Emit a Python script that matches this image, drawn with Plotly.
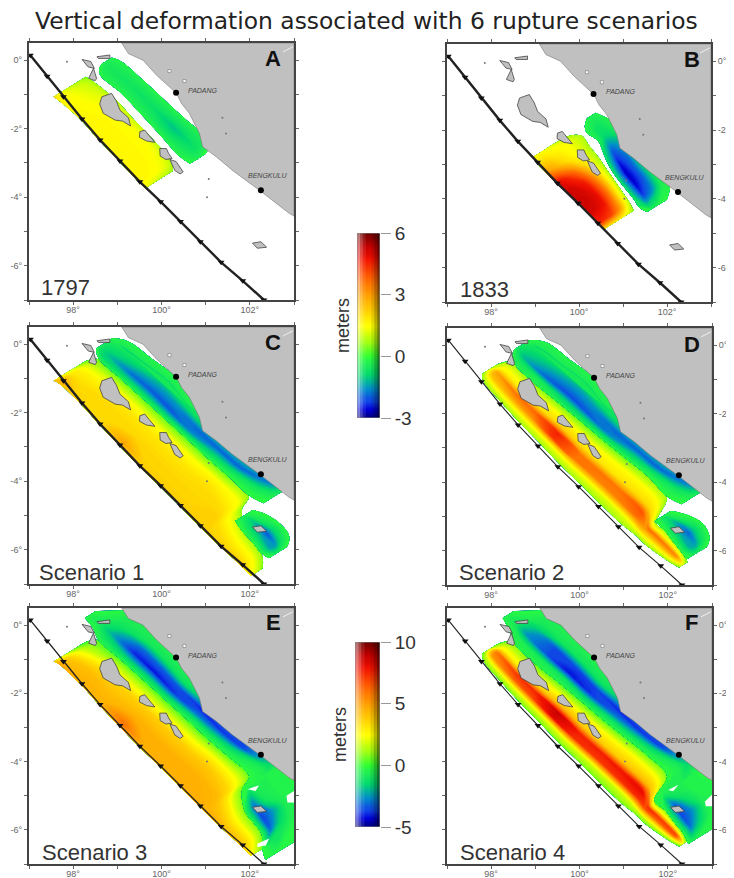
import numpy as np
import plotly.graph_objects as go

W, H = 734, 878
BODY = 8  # default page margin around the figure
TITLE = "Vertical deformation associated with 6 rupture scenarios"

# trench (lon, lat) read at the barbs
TRENCH_LON = [97.03, 97.41, 97.78, 98.20, 98.61, 99.06, 99.51, 99.98, 100.43, 100.88, 101.35, 101.84, 102.32]
TRENCH_LAT = [0.146, -0.47, -1.07, -1.72, -2.33, -2.94, -3.55, -4.13, -4.71, -5.30, -5.90, -6.44, -7.0]

COAST_LON = [99.10, 99.25, 99.58, 99.89, 100.34, 100.45, 100.63, 100.86, 100.93, 101.24, 101.6, 102.21, 102.89, 103, 103, 99.10]
COAST_LAT = [0.5, 0.19, 0.0, -0.44, -0.97, -1.26, -1.55, -2.14, -2.53, -2.82, -3.21, -3.79, -4.47, -4.55, 0.5, 0.5]

ISLANDS = [
    ([98.65, 98.87, 98.98, 99.06, 99.25, 99.30, 99.12, 98.95, 98.68, 98.6, 98.65], [-1.07, -0.97, -1.2, -1.46, -1.68, -1.92, -1.78, -1.75, -1.55, -1.28, -1.07]),
    ([99.51, 99.62, 99.72, 99.85, 99.66, 99.5, 99.51], [-2.09, -2.04, -2.2, -2.4, -2.36, -2.25, -2.09]),
    ([99.96, 100.11, 100.16, 100.24, 100.1, 99.97, 99.96], [-2.58, -2.58, -2.72, -2.87, -2.9, -2.8, -2.58]),
    ([100.19, 100.33, 100.49, 100.42, 100.3, 100.19], [-2.9, -2.96, -3.26, -3.32, -3.22, -2.9]),
    ([98.35, 98.46, 98.53, 98.5, 98.35], [-0.53, -0.24, -0.53, -0.6, -0.53]),
    ([98.2, 98.4, 98.48, 98.34, 98.2], [0.02, -0.04, -0.24, -0.2, 0.02]),
    ([98.54, 98.83, 98.83, 98.57, 98.54], [0.1, 0.15, 0.05, 0.05, 0.1]),
    ([102.06, 102.25, 102.38, 102.17, 102.06], [-5.34, -5.3, -5.46, -5.49, -5.34]),
]
ISLET_LON = [97.86, 101.38, 101.46, 101.07, 101.03]
ISLET_LAT = [-0.05, -1.68, -2.14, -3.47, -4.0]
LAKE_LON = [100.18, 100.52]
LAKE_LAT = [-0.32, -0.61]
CITY_LON = [100.33, 102.25]
CITY_LAT = [-0.95, -3.8]
CITY_NAMES = ["PADANG", "BENGKULU"]
CITY_LABEL_LON = [100.95, 102.4]
CITY_LABEL_LAT = [-0.88, -3.38]

# ---- deformation tables: station along the trench, across-strike limits, metres ----
FR_A_UP = [0, .15, .5, .85, 1]
A_UP_STN = [1.8, 2, 3, 4, 5, 6, 6.3]
A_UP_LO = [-.15, -.12, -.03, -.02, -.02, -.02, -.02]
A_UP_HI = [.58, .62, .74, .76, .76, .72, .6]
A_UP_Z = [[2.2, 1.5, 1.0, .7, .5], [1.8, 1.55, 1.3, 1.0, .7], [1.6, 1.6, 1.55, 1.3, .9], [1.6, 1.6, 1.6, 1.4, 1.0],
          [1.6, 1.6, 1.6, 1.45, .95], [1.6, 1.6, 1.55, 1.2, .8], [1.55, 1.3, 1.0, .8, .7]]
FR_A_DN = [0, .25, .5, .75, 1]
A_DN_STN = [1.7, 2, 3, 4, 5, 6, 6.4]
A_DN_LO = [.98, .82, .91, .93, .92, .91, .95]
A_DN_HI = [1.2, 1.3, 1.4, 1.46, 1.5, 1.54, 1.3]
A_DN_Z = [[-.2, -.3, -.35, -.3, -.2], [-.2, -.4, -.5, -.4, -.2], [-.2, -.45, -.6, -.45, -.2], [-.2, -.5, -.7, -.5, -.2],
          [-.2, -.7, -1.1, -.6, -.2], [-.2, -.5, -.7, -.5, -.2], [-.1, -.2, -.3, -.2, -.1]]

FR_B_UP = [0, .2, .45, .7, .85, 1]
B_UP_STN = [4.75, 5, 5.5, 6, 6.5, 7, 7.5, 8, 8.3]
B_UP_LO = [0, -.02, -.02, -.02, 0, 0, 0, 0, 0]
B_UP_HI = [.7, .98, .96, .94, .88, .83, .78, .73, .68]
B_UP_Z = [[1.55, 1.55, 1.35, 1.1, .9, .7], [1.75, 1.85, 1.6, 1.45, 1.15, .8], [3.2, 2.8, 2.0, 1.5, 1.2, .8],
          [5.0, 4.6, 3.6, 2.0, 1.3, .8], [5.2, 5.1, 4.6, 3.0, 1.7, .8], [5.3, 5.2, 4.9, 3.4, 2.0, .85],
          [5.2, 5.1, 4.8, 3.4, 2.0, .85], [4.6, 4.5, 4.1, 3.0, 1.8, .85], [2.2, 1.9, 1.75, 1.45, 1.15, .7]]
FR_B_DN = [0, .25, .5, .75, 1]
B_DN_STN = [4.6, 5, 5.5, 6, 6.5, 7, 7.5, 8, 8.3, 8.6]
B_DN_LO = [1.3, 1.1, 1.15, 1.05, .95, .89, .86, .83, .8, .85]
B_DN_HI = [1.5, 1.6, 1.7, 1.8, 1.75, 1.7, 1.68, 1.62, 1.5, 1.3]
B_DN_Z = [[-.2, -.3, -.3, -.3, -.2], [-.2, -.4, -.6, -.5, -.2], [-.3, -.9, -.8, -.4, -.2], [-.6, -1.9, -1.4, -.5, -.2],
          [-.6, -2.4, -1.8, -.5, -.2], [-.6, -2.7, -1.9, -.5, -.2], [-.6, -2.6, -1.9, -.5, -.2], [-.5, -2.2, -1.6, -.4, -.2],
          [-.2, -1.3, -.9, -.3, -.2], [-.1, -.3, -.3, -.2, -.1]]

FR_C_UP = [0, .1, .35, .6, .8, 1]
C_UP_STN = [1.8, 2, 2.5, 3, 4, 5, 6, 7, 8, 9, 9.3, 10, 11, 11.5]
C_UP_LO = [-.15, -.1, -.06, -.03, -.02, -.02, -.02, -.02, -.02, -.02, -.02, -.02, -.04, -.06]
C_UP_HI = [.55, .79, .83, .88, .95, .99, 1.03, 1.04, 1.08, 1.1, .8, .54, .42, .2]
C_UP_Z = [[2.5, 1.9, 1.45, 1.0, .6, .3], [2.5, 2.8, 1.9, 1.6, .9, .3], [2.3, 2.2, 2.0, 1.7, 1.2, .3], [2.1, 2.1, 2.1, 1.75, 1.3, .3],
          [2.1, 2.1, 2.1, 1.9, 1.4, .3], [2.5, 2.9, 2.1, 1.9, 1.4, .3], [2.2, 2.2, 2.1, 1.9, 1.45, .3], [2.2, 2.2, 2.1, 1.9, 1.5, .3],
          [2.2, 2.2, 2.1, 2.0, 1.55, .3], [2.2, 2.2, 2.2, 1.75, 1.4, .5], [2.2, 2.2, 2.0, 1.6, 1.2, .55], [2.2, 2.2, 1.9, 1.55, 1.2, .7],
          [2.2, 2.2, 1.75, 1.45, 1.0, .55], [1.6, 1.5, 1.3, 1.0, .8, .5]]
FR_DN = [0, .15, .3, .55, .8, 1]
C_DN_STN = [1.6, 2, 3, 4, 5, 6, 7, 8, 9, 9.5]
C_DN_LO = [.9, .8, .88, .95, .99, 1.03, 1.04, 1.08, 1.1, 1.2]
C_DN_HI = [1.25, 1.45, 1.6, 1.72, 1.65, 1.55, 1.55, 1.6, 1.95, 1.85]
C_DN_Z = [[-.2, -.4, -.5, -.5, -.3, -.2], [-.2, -.9, -1.0, -.7, -.4, -.2], [-.2, -1.0, -1.8, -1.0, -.4, -.2], [-.2, -1.1, -2.0, -1.3, -.4, -.2],
          [-.2, -1.1, -2.0, -1.5, -.4, -.2], [-.1, -.8, -1.6, -1.9, -.9, -.5], [-.1, -.6, -1.0, -1.9, -1.2, -.7], [-.1, -.4, -.8, -1.9, -1.3, -.9],
          [-.1, -.3, -.6, -1.7, -.7, -.3], [-.1, -.2, -.3, -.4, -.3, -.2]]
FR_EN = [0, .3, .5, .7, 1]
C_EN_STN = [9.5, 10, 10.5, 11, 11.3]
C_EN_LO = [.55, .5, .47, .42, .45]
C_EN_HI = [.95, 1.1, 1.12, 1.05, .85]
C_EN_Z = [[-.1, -.3, -.4, -.3, -.1], [-.1, -.8, -1.3, -.5, -.1], [-.1, -1.2, -2.0, -.9, -.1], [-.1, -1.4, -1.5, -.7, -.1], [-.1, -.3, -.4, -.3, -.1]]

FR_D_UP = [0, .15, .3, .45, .6, .8, 1]
D_UP_STN = [1.75, 2, 3, 4, 5, 6, 7, 8, 9, 9.6, 10, 11, 11.4]
D_UP_LO = [.12, .04, .04, .05, .06, .06, .06, .06, .08, .12, .12, .17, .22]
D_UP_HI = [.42, .72, .77, .87, .94, 1.0, 1.05, 1.11, 1.1, .58, .59, .48, .42]
D_UP_Z = [[.7, .85, 1.0, 1.1, .9, .75, .5], [.7, 1.45, 2.5, 2.9, 1.7, 1.2, .5], [.7, 1.5, 2.9, 3.6, 1.9, 1.3, .5], [.7, 1.45, 3.2, 3.8, 2.0, 1.45, .4],
          [.7, 1.45, 4.4, 4.6, 2.3, 1.45, .3], [.7, 1.45, 3.6, 3.6, 2.0, 1.45, .3], [.7, 1.4, 3.4, 3.6, 1.9, 1.5, .3], [.7, 1.3, 3.4, 3.6, 2.0, 1.55, .5],
          [.7, 1.4, 3.6, 4.0, 2.1, 1.45, .6], [.7, 1.2, 2.1, 2.9, 3.6, 1.7, .7], [.7, 1.2, 1.9, 2.9, 3.6, 1.6, .7], [.7, 1.2, 1.9, 2.7, 3.3, 1.55, .7],
          [.55, .85, 1.1, 1.2, 1.0, .75, .5]]
D_DN_STN = [1.6, 2, 3, 4, 5, 6, 7, 8, 9, 9.5]
D_DN_LO = [.9, .72, .77, .87, .94, 1.0, 1.05, 1.11, 1.1, 1.2]
D_DN_HI = [1.2, 1.45, 1.6, 1.72, 1.65, 1.55, 1.55, 1.6, 1.95, 1.85]
D_DN_Z = [[-.2, -.4, -.5, -.5, -.3, -.2], [-.2, -.5, -1.1, -.8, -.4, -.2], [-.2, -.5, -1.9, -1.2, -.4, -.2], [-.2, -.9, -2.1, -1.4, -.4, -.2],
          [-.2, -1.0, -2.0, -1.5, -.4, -.2], [-.1, -.8, -1.6, -1.9, -.9, -.5], [-.1, -.6, -1.0, -1.9, -1.3, -.7], [-.1, -.4, -.8, -1.9, -1.3, -.9],
          [-.1, -.3, -.6, -1.7, -.7, -.3], [-.1, -.2, -.3, -.4, -.3, -.2]]
D_EN_STN = [9.5, 10, 10.5, 11, 11.3]
D_EN_LO = [.58, .59, .53, .48, .45]
D_EN_HI = [.95, 1.15, 1.2, 1.1, .9]
D_EN_Z = [[-.1, -.3, -.4, -.3, -.1], [-.1, -.9, -1.4, -.5, -.1], [-.1, -1.3, -1.9, -.9, -.1], [-.1, -1.3, -1.4, -.7, -.1], [-.1, -.3, -.4, -.3, -.1]]

E_UP_STN = [1.8, 2, 2.5, 3, 4, 5, 6, 7, 8, 9, 9.3, 10, 11, 11.5]
E_UP_LO = [-.15, -.1, -.06, -.03, -.02, -.02, -.02, -.02, -.02, -.02, -.02, -.02, -.04, -.06]
E_UP_HI = [.5, .79, .83, .88, .95, .99, 1.03, 1.04, 1.08, 1.1, .8, .54, .42, .2]
E_UP_Z = [[3.9, 2.8, 1.7, .9, .3, .1], [5.0, 4.4, 3.3, 1.7, .9, .2], [4.8, 4.4, 4.1, 2.8, 1.4, .3], [4.5, 4.5, 4.2, 3.3, 1.9, .3],
          [4.5, 4.5, 4.2, 3.6, 2.1, .3], [5.4, 6.0, 4.5, 3.8, 2.2, .3], [4.6, 4.6, 4.5, 3.8, 2.3, .3], [4.6, 4.6, 4.5, 3.8, 2.4, .3],
          [4.6, 4.6, 4.5, 3.9, 2.6, .4], [4.5, 4.5, 4.3, 3.3, 2.1, .5], [4.5, 4.5, 4.0, 3.0, 1.7, .7], [4.3, 4.3, 3.5, 2.6, 1.7, .8],
          [4.0, 3.9, 3.2, 2.3, 1.4, .7], [3.3, 2.8, 2.0, 1.4, 1.0, .7]]
FR_WIDE = [0, .12, .25, .4, .55, .75, 1]
E_DN_STN = [1, 1.5, 2, 3, 4, 5, 6, 7, 8, 9, 9.3, 10, 10.5, 11, 11.5, 11.9]
E_DN_LO = [.85, .85, .79, .88, .95, .99, 1.03, 1.04, 1.08, 1.1, .8, .54, .48, .42, .2, .08]
E_DN_HI = [1.1, 1.5, 1.9, 2, 2, 1.9, 1.9, 1.8, 1.9, 2.2, 2.2, 2.3, 2.2, 2, 1.1, .8]
E_DN_Z = [[-.3, -.4, -.4, -.4, -.4, -.3, -.3], [-.3, -.5, -.8, -.8, -.6, -.4, -.3], [-.3, -1.0, -1.9, -1.2, -.8, -.5, -.3],
          [-.3, -1.8, -3.9, -3.0, -.9, -.4, -.3], [-.3, -1.8, -4.1, -3.2, -1.0, -.4, -.3], [-.3, -1.8, -3.8, -3.4, -1.2, -.4, -.3],
          [-.2, -1.2, -3.0, -3.9, -2.2, -.8, -.3], [-.2, -.9, -2.2, -3.8, -3.2, -1.0, -.4], [-.2, -.7, -1.6, -3.6, -3.4, -1.0, -.4],
          [-.2, -.4, -.6, -1.4, -1.0, -.4, -.3], [-.2, -.3, -.4, -.5, -.4, -.3, -.3], [-.2, -3.0, -.9, -.5, -.4, -.3, -.3],
          [-.2, -3.6, -2.5, -.7, -.4, -.3, -.3], [-.2, -3.2, -1.5, -.6, -.4, -.3, -.3], [-.2, -.4, -.8, -1.0, -.5, -.3, -.3], [-.2, -.3, -.3, -.3, -.3, -.3, -.2]]

F_UP_STN = [1.75, 2, 3, 4, 5, 6, 7, 8, 9, 9.6, 10, 11, 11.4]
F_UP_LO = [.12, .04, .04, .05, .06, .06, .06, .06, .08, .12, .12, .17, .22]
F_UP_HI = [.42, .72, .77, .87, .94, 1.0, 1.05, 1.11, 1.1, .58, .59, .48, .42]
F_UP_Z = [[.7, 1.0, 1.4, 1.6, 1.2, .9, .5], [.7, 2.2, 5.2, 5.8, 2.9, 1.6, .5], [.7, 2.4, 6.2, 7.2, 3.3, 1.9, .5], [.7, 2.2, 6.8, 7.6, 3.9, 2.3, .4],
          [.7, 2.2, 8.4, 8.8, 4.5, 2.4, .3], [.7, 2.2, 7.4, 7.7, 4.0, 2.5, .3], [.7, 2.0, 7.2, 7.7, 3.8, 2.6, .3], [.7, 1.9, 7.3, 7.9, 4.0, 2.7, .5],
          [.7, 2.0, 7.4, 8.2, 4.3, 2.5, .6], [.7, 1.7, 3.9, 6.6, 7.4, 3.0, .7], [.7, 1.7, 3.7, 6.4, 7.2, 2.8, .7], [.7, 1.7, 3.6, 6.0, 6.9, 2.6, .7],
          [.5, 1.0, 1.7, 1.9, 1.4, 1.0, .5]]
F_DN_STN = [1, 1.5, 2, 3, 4, 5, 6, 7, 8, 9, 9.5, 10, 10.5, 11, 11.5]
F_DN_LO = [.85, .8, .72, .77, .87, .94, 1.0, 1.05, 1.11, 1.1, .58, .59, .53, .48, .38]
F_DN_HI = [1.1, 1.5, 1.9, 2, 2, 1.9, 1.9, 1.8, 1.9, 2.2, 2.2, 2.3, 2.2, 2, .95]
F_DN_Z = [[-.3, -.4, -.4, -.4, -.4, -.3, -.3], [-.3, -.5, -.9, -1.0, -.6, -.4, -.3], [-.3, -.6, -2.5, -1.8, -.8, -.5, -.3],
          [-.3, -.7, -3.5, -3.6, -.9, -.4, -.3], [-.3, -1.0, -4.1, -3.6, -1.0, -.4, -.3], [-.3, -1.6, -3.8, -3.6, -1.2, -.4, -.3],
          [-.2, -1.2, -3.0, -3.9, -2.2, -.8, -.3], [-.2, -.9, -2.2, -3.8, -3.2, -1.0, -.4], [-.2, -.7, -1.6, -3.6, -3.4, -1.0, -.4],
          [-.2, -.4, -.6, -1.4, -1.0, -.4, -.3], [-.2, -.5, -.6, -.5, -.4, -.3, -.3], [-.2, -3.2, -1.2, -.5, -.4, -.3, -.3],
          [-.2, -3.6, -2.6, -.6, -.4, -.3, -.3], [-.2, -3.0, -1.6, -.5, -.4, -.3, -.3], [-.2, -.4, -.5, -.5, -.4, -.3, -.2]]

HOLES_E = [([101.95, 102.21, 102.13, 101.95], [-4.81, -4.69, -4.86, -4.81]),
           ([102.83, 103, 103, 102.85, 102.83], [-5.0, -4.86, -5.2, -5.2, -5.0]),
           ([102.17, 102.44, 102.36, 102.17, 102.17], [-6.41, -6.25, -6.46, -6.5, -6.41])]
HOLES_F = [([102.01, 102.24, 102.12, 102.01], [-4.83, -4.68, -4.87, -4.83]),
           ([102.84, 103, 103, 102.86, 102.84], [-5.17, -4.97, -5.31, -5.31, -5.17])]

COLORSCALE = [[0, "#00007a"], [.05, "#0000d8"], [.09, "#1040e8"], [.16, "#0090c8"], [.234, "#00d870"], [.30, "#20f050"],
              [.333, "#30ff30"], [.41, "#a0ff10"], [.5, "#ffff00"], [.58, "#ffd000"], [.667, "#ffa000"], [.77, "#ff5800"],
              [.865, "#f01000"], [.93, "#c00000"], [1, "#700000"]]

PANELS = [
    dict(box=(29, 294, 43, 300), side="left", letter="A", lx=283, ly=58, cap="1797", cx=39, cy=287, zr=(-3, 6), tw=2.4, fs=9,
         patches=[(A_UP_STN, A_UP_LO, A_UP_HI, FR_A_UP, A_UP_Z), (A_DN_STN, A_DN_LO, A_DN_HI, FR_A_DN, A_DN_Z)], holes=[]),
    dict(box=(447, 711, 44, 302), side="right", letter="B", lx=702, ly=59, cap="1833", cx=458, cy=289, zr=(-3, 6), tw=2.4, fs=9,
         patches=[(B_UP_STN, B_UP_LO, B_UP_HI, FR_B_UP, B_UP_Z), (B_DN_STN, B_DN_LO, B_DN_HI, FR_B_DN, B_DN_Z)], holes=[]),
    dict(box=(29, 294, 327, 584), side="left", letter="C", lx=283, ly=343, cap="Scenario 1", cx=37, cy=572, zr=(-3, 6), tw=2.4, fs=9,
         patches=[(C_UP_STN, C_UP_LO, C_UP_HI, FR_C_UP, C_UP_Z), (C_DN_STN, C_DN_LO, C_DN_HI, FR_DN, C_DN_Z), (C_EN_STN, C_EN_LO, C_EN_HI, FR_EN, C_EN_Z)], holes=[]),
    dict(box=(447, 712, 328, 585), side="right", letter="D", lx=702, ly=344, cap="Scenario 2", cx=457, cy=572, zr=(-3, 6), tw=1.1, fs=9,
         patches=[(D_UP_STN, D_UP_LO, D_UP_HI, FR_D_UP, D_UP_Z), (D_DN_STN, D_DN_LO, D_DN_HI, FR_DN, D_DN_Z), (D_EN_STN, D_EN_LO, D_EN_HI, FR_EN, D_EN_Z)], holes=[]),
    dict(box=(29, 294, 608, 864), side="left", letter="E", lx=283, ly=622, cap="Scenario 3", cx=40, cy=852, zr=(-5, 10), tw=1.3, fs=9,
         patches=[(E_UP_STN, E_UP_LO, E_UP_HI, FR_C_UP, E_UP_Z), (E_DN_STN, E_DN_LO, E_DN_HI, FR_WIDE, E_DN_Z)], holes=HOLES_E),
    dict(box=(447, 712, 608, 864), side="right", letter="F", lx=700, ly=622, cap="Scenario 4", cx=458, cy=852, zr=(-5, 10), tw=1.1, fs=9,
         patches=[(F_UP_STN, F_UP_LO, F_UP_HI, FR_D_UP, F_UP_Z), (F_DN_STN, F_DN_LO, F_DN_HI, FR_WIDE, F_DN_Z)], holes=HOLES_F),
]

BARS = [dict(box=(357, 380, 233, 418), vals=[-3, 0, 3, 6], label_y=326, label_x=343),
        dict(box=(355, 380, 642, 827), vals=[-5, 0, 5, 10], label_y=735, label_x=340)]

LAND = "#c0c0c0"
INK = "#333333"
FONT = "Liberation Sans"
ACROSS_DY = 0.8
FW, FH = W - BODY, H - BODY

fig = go.Figure()
layout = {}
annotations = []
shapes = []


def px_x(p):
    return (p - BODY) / FW


def px_y(p):
    return 1 - (p - BODY) / FH


def add_patch(ax, ay, idx, patch, zr):
    stn, lo, hi, fr, z = patch
    s = np.array(stn, float)
    lon0 = np.interp(s, range(len(TRENCH_LON)), TRENCH_LON)
    lat0 = np.interp(s, range(len(TRENCH_LAT)), TRENCH_LAT)
    f = np.array(fr, float)[:, None]
    t = np.array(lo)[None, :] + f * (np.array(hi) - np.array(lo))[None, :]
    x = lon0[None, :] + t
    y = lat0[None, :] + ACROSS_DY * t
    zz = np.array(z, float).T
    cid = f"c{idx}"
    hidden = dict(showgrid=False, showline=False, startline=False, endline=False, showticklabels="none",
                  minorgridcount=0, smoothing=1)
    fig.add_trace(go.Carpet(a=stn, b=fr, x=x.tolist(), y=y.tolist(), carpet=cid, xaxis=ax, yaxis=ay,
                            aaxis=hidden, baxis=hidden))
    fig.add_trace(go.Contourcarpet(a=stn, b=fr, z=zz.tolist(), carpet=cid, xaxis=ax, yaxis=ay, colorscale=COLORSCALE,
                                   zauto=False, zmin=zr[0], zmax=zr[1], autocontour=False, showscale=False,
                                   contours=dict(start=zr[0], end=zr[1], size=(zr[1] - zr[0]) / 120, coloring="fill", showlines=False),
                                   line=dict(width=0)))


pid = 0
for i, p in enumerate(PANELS):
    n = i + 1
    suffix = "" if n == 1 else str(n)
    ax, ay = f"x{suffix}", f"y{suffix}"
    x0, x1, y0, y1 = p["box"]
    tickx = list(range(97, 104))
    ticky = list(range(-7, 1))
    layout[f"xaxis{suffix}"] = dict(domain=[px_x(x0), px_x(x1)], range=[97, 103], anchor=ay, showgrid=False, zeroline=False,
                                    tickvals=tickx, ticktext=[f"{v}°" if v in (98, 100, 102) else "" for v in tickx],
                                    ticks="outside", ticklen=3, tickcolor="#666666", tickwidth=1, ticklabelstandoff=-3,
                                    tickfont=dict(size=p["fs"], color="#666666", family=FONT),
                                    showline=True, linecolor="#444444", linewidth=2, mirror="allticks")
    layout[f"yaxis{suffix}"] = dict(domain=[px_y(y1), px_y(y0)], range=[-7, 0.5], anchor=ax, side=p["side"], showgrid=False, zeroline=False,
                                    tickvals=ticky, ticktext=[f"{v}°" if v in (0, -2, -4, -6) else "" for v in ticky],
                                    ticks="outside", ticklen=3, tickcolor="#666666", tickwidth=1,
                                    tickfont=dict(size=p["fs"], color="#666666", family=FONT),
                                    showline=True, linecolor="#444444", linewidth=2, mirror="allticks")
    for patch in p["patches"]:
        add_patch(ax, ay, pid, patch, p["zr"])
        pid += 1
    for hx, hy in p["holes"]:
        fig.add_trace(go.Scatter(x=hx, y=hy, mode="lines", fill="toself", fillcolor="white", line=dict(width=0), xaxis=ax, yaxis=ay))
    fig.add_trace(go.Scatter(x=COAST_LON, y=COAST_LAT, mode="lines", fill="toself", fillcolor=LAND,
                             line=dict(color="#777777", width=0.6), xaxis=ax, yaxis=ay))
    for ix, iy in ISLANDS:
        fig.add_trace(go.Scatter(x=ix, y=iy, mode="lines", fill="toself", fillcolor=LAND,
                                 line=dict(color="#444444", width=0.8), xaxis=ax, yaxis=ay))
    fig.add_trace(go.Scatter(x=ISLET_LON, y=ISLET_LAT, mode="markers", marker=dict(size=2, color="#777777"), xaxis=ax, yaxis=ay))
    fig.add_trace(go.Scatter(x=LAKE_LON, y=LAKE_LAT, mode="markers",
                             marker=dict(size=3, color="white", symbol="square", line=dict(color="#777777", width=0.6)), xaxis=ax, yaxis=ay))
    fig.add_trace(go.Scatter(x=[102.75, 102.98], y=[0.24, 0.39], mode="lines", line=dict(color="#eeeeee", width=1), xaxis=ax, yaxis=ay))
    fig.add_trace(go.Scatter(x=TRENCH_LON, y=TRENCH_LAT, mode="lines+markers", line=dict(color="#222222", width=p["tw"]),
                             marker=dict(symbol="triangle-down", size=6, color="#111111"), xaxis=ax, yaxis=ay))
    fig.add_trace(go.Scatter(x=CITY_LON, y=CITY_LAT, mode="markers", marker=dict(size=6, color="black"), xaxis=ax, yaxis=ay))
    for name, lx, ly in zip(CITY_NAMES, CITY_LABEL_LON, CITY_LABEL_LAT):
        annotations.append(dict(x=lx, y=ly, xref=ax, yref=ay, text=f"<i>{name}</i>", showarrow=False,
                                font=dict(size=7, color="#444444", family=FONT)))
    annotations.append(dict(x=px_x(p["lx"]), y=px_y(p["ly"]), xref="paper", yref="paper", xanchor="right", yanchor="middle",
                            text=f"<b>{p['letter']}</b>", showarrow=False, font=dict(size=22, color="#111111", family=FONT)))
    annotations.append(dict(x=px_x(p["cx"]), y=px_y(p["cy"]), xref="paper", yref="paper", xanchor="left", yanchor="middle",
                            text=p["cap"], showarrow=False, font=dict(size=22, color=INK, family=FONT)))

for j, b in enumerate(BARS):
    n = len(PANELS) + j + 1
    ax, ay = f"x{n}", f"y{n}"
    x0, x1, y0, y1 = b["box"]
    lo, hi = b["vals"][0], b["vals"][-1]
    ramp = np.linspace(lo, hi, 181)
    fig.add_trace(go.Heatmap(x=[0, 1], y=ramp, z=[[v, v] for v in ramp], colorscale=COLORSCALE, zmin=lo, zmax=hi,
                             showscale=False, xaxis=ax, yaxis=ay, zsmooth="best"))
    layout[f"xaxis{n}"] = dict(domain=[px_x(x0), px_x(x1)], range=[0, 1], anchor=ay, showticklabels=False, ticks="", showgrid=False, zeroline=False,
                               showline=False)
    layout[f"yaxis{n}"] = dict(domain=[px_y(y1), px_y(y0)], range=[lo, hi], anchor=ax, side="right", showgrid=False, zeroline=False,
                               tickvals=b["vals"], ticktext=[str(v) for v in b["vals"]], ticks="outside", ticklen=10, tickcolor="#999999",
                               tickfont=dict(size=19, color=INK, family=FONT), showline=False)
    for k, (a, c, o) in enumerate([(0, "white", .45), (.12, "white", .28), (.25, "white", .1),
                                   (.62, "black", .1), (.75, "black", .28), (.88, "black", .5)]):
        w = .13
        shapes.append(dict(type="rect", xref=ax, yref=ay, x0=a, x1=min(a + w, 1), y0=lo, y1=hi, fillcolor=c, opacity=o, line=dict(width=0)))
    shapes.append(dict(type="rect", xref=ax, yref=ay, x0=0, x1=1, y0=lo, y1=hi, line=dict(color="#888888", width=1)))
    annotations.append(dict(x=px_x(b["label_x"]), y=px_y(b["label_y"]), xref="paper", yref="paper", xanchor="center", yanchor="middle",
                            text="meters", textangle=-90, showarrow=False, font=dict(size=18, color=INK, family=FONT)))

annotations.append(dict(x=px_x(366), y=px_y(21), xref="paper", yref="paper", xanchor="center", yanchor="middle", text=TITLE, showarrow=False,
                        font=dict(size=23.4, color="#222222", family="DejaVu Sans")))

fig.update_layout(width=FW, height=FH, margin=dict(l=0, r=0, t=0, b=0, autoexpand=False), paper_bgcolor="white", plot_bgcolor="white",
                  showlegend=False, annotations=annotations, shapes=shapes, **layout)
fig.write_html("out.html")
